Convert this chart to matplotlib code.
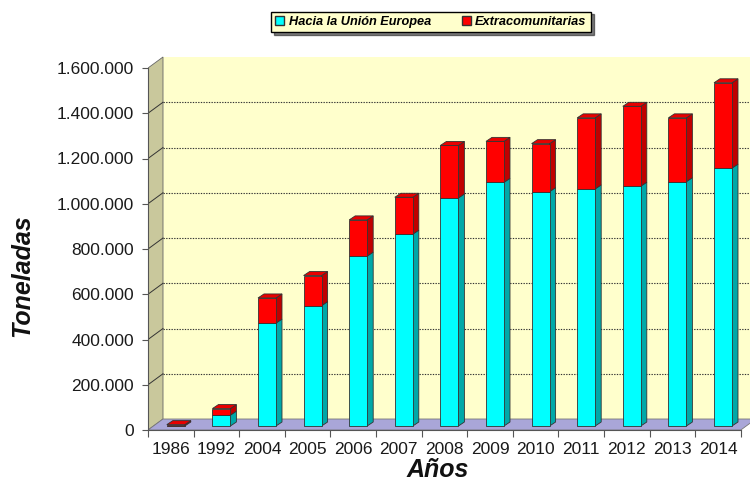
import matplotlib.pyplot as plt
from matplotlib.patches import Patch

# toneladas por año
years = ["1986", "1992", "2004", "2005", "2006", "2007", "2008",
         "2009", "2010", "2011", "2012", "2013", "2014"]
hacia_ue = [0, 48000, 455000, 532000, 751000, 848000, 1008000,
            1077000, 1036000, 1048000, 1060000, 1080000, 1140000]
extracom = [6000, 29000, 111000, 133000, 160000, 163000, 232000,
            181000, 212000, 314000, 353000, 282000, 377000]
ytick_vals = [0, 200000, 400000, 600000, 800000, 1000000, 1200000, 1400000, 1600000]
ytick_labels = ["0", "200.000", "400.000", "600.000", "800.000",
                "1.000.000", "1.200.000", "1.400.000", "1.600.000"]

plt.rcParams['font.family'] = ['Liberation Sans', 'DejaVu Sans']

fig = plt.figure(figsize=(7.5, 4.83), dpi=100)
ax = fig.add_axes([148 / 750, 53 / 483, 602 / 750, 380 / 483])

ymax = 1600000
px_val = ymax / 362.0     # valor por pixel
px_cat = 1 / 45.6         # categoría por pixel

ax.set_xlim(-0.5, -0.5 + 602 * px_cat)
ax.set_ylim(0, 380 * px_val)

# profundidad de las paredes
ddx = 15 * px_cat
ddy = 11 * px_val
n = len(years)

# pared izquierda, pared del fondo y suelo
ax.fill([-0.5, -0.5 + ddx, -0.5 + ddx, -0.5], [0, ddy, ymax + ddy, ymax],
        color='#c9c89c', ec='#666666', lw=0.6, zorder=1)
ax.fill([-0.5 + ddx, 20, 20, -0.5 + ddx], [ddy, ddy, ymax + ddy, ymax + ddy],
        color='#ffffcc', lw=0, zorder=0)
ax.fill([-0.5, n - 0.5, n - 0.5 + ddx, -0.5 + ddx], [0, 0, ddy, ddy],
        color='#a9a6d8', ec='#777777', lw=0.6, zorder=1)

# líneas de cuadrícula punteadas
for v in ytick_vals[1:-1]:
    ax.plot([-0.5, -0.5 + ddx], [v, v + ddy], color='#333333', lw=0.7, zorder=2)
    ax.plot([-0.5 + ddx, 20], [v + ddy, v + ddy], color='#333333', lw=0.8,
            ls=(0, (1.2, 1.2)), zorder=2)

# barras 3D
bw = 18 * px_cat
bshift = 5 * px_cat
base = 4 * px_val
bdx = 6 * px_cat
bdy = 4 * px_val
xs = [i + bshift for i in range(n)]
edge = '#333333'

ax.bar(xs, hacia_ue, width=bw, bottom=base, color='#00ffff', ec=edge, lw=0.6, zorder=4)
tops = [base + c for c in hacia_ue]
ax.bar(xs, extracom, width=bw, bottom=tops, color='#ff0000', ec=edge, lw=0.6, zorder=4)

for x, c, r in zip(xs, hacia_ue, extracom):
    x1 = x + bw / 2
    x0 = x - bw / 2
    if c > 0:
        ax.fill([x1, x1 + bdx, x1 + bdx, x1], [base, base + bdy, base + c + bdy, base + c],
                color='#00a8a8', ec=edge, lw=0.6, zorder=3)
    ax.fill([x1, x1 + bdx, x1 + bdx, x1],
            [base + c, base + c + bdy, base + c + r + bdy, base + c + r],
            color='#c00000', ec=edge, lw=0.6, zorder=3)
    top = base + c + r
    ax.fill([x0, x1, x1 + bdx, x0 + bdx], [top, top, top + bdy, top + bdy],
            color='#e80000', ec=edge, lw=0.6, zorder=5)

# ejes
for s in ['top', 'right']:
    ax.spines[s].set_visible(False)
ax.spines['left'].set_bounds(0, ymax)
ax.spines['bottom'].set_bounds(-0.5, n - 0.5)
ax.spines['left'].set_color('#555555')
ax.spines['bottom'].set_color('#555555')
ax.spines['left'].set_zorder(6)
ax.spines['bottom'].set_zorder(6)

ax.set_yticks(ytick_vals)
ax.set_yticklabels(ytick_labels)
ax.set_xticks(range(n))
ax.set_xticklabels(years)
ax.set_xticks([i - 0.5 for i in range(n + 1)], minor=True)
ax.tick_params(axis='y', length=4, width=0.8, color='#555555', pad=6,
               labelsize=12.5, labelcolor='#1a1a1a')
ax.tick_params(axis='x', which='major', length=0, pad=9,
               labelsize=12.5, labelcolor='#1a1a1a')
ax.tick_params(axis='x', which='minor', length=5, width=0.8, color='#555555')

fig.text(22 / 750, 1 - 276 / 483, "Toneladas", rotation=90, ha='center', va='center',
         fontsize=18, fontweight='bold', fontstyle='italic', color='#111111')
fig.text(438 / 750, 1 - 470 / 483, "Años", ha='center', va='center',
         fontsize=18, fontweight='bold', fontstyle='italic', color='#111111')

handles = [Patch(facecolor='#00ffff', edgecolor='#333333', label='Hacia la Unión Europea'),
           Patch(facecolor='#ff0000', edgecolor='#333333', label='Extracomunitarias')]
leg = fig.legend(handles=handles, loc='center', bbox_to_anchor=(431 / 750, 1 - 22 / 483),
                 ncol=2, frameon=True, fancybox=False, shadow={'color': 'black'},
                 prop={'weight': 'bold', 'style': 'italic', 'size': 9.2},
                 handlelength=0.7, handleheight=0.7, handletextpad=0.35,
                 columnspacing=2.4, borderpad=0.35, borderaxespad=0)
leg.get_frame().set_facecolor('#ffffcc')
leg.get_frame().set_edgecolor('black')
leg.get_frame().set_alpha(1)

plt.savefig("out.png", dpi=100)
